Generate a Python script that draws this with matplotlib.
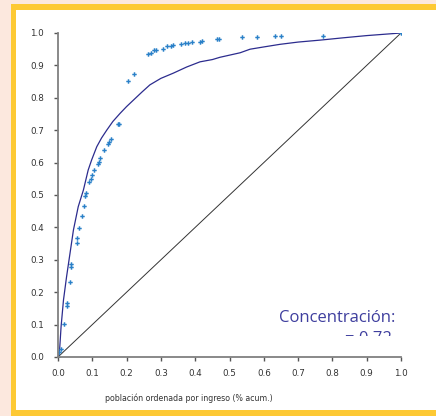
import numpy as np
import matplotlib
matplotlib.use("Agg")
import matplotlib.pyplot as plt
from matplotlib.patches import Rectangle
from matplotlib.transforms import Bbox, TransformedBbox

# curva de Lorenz (poblacion acumulada vs ingreso acumulado)
lorenz_x = [0.0, 0.004, 0.009, 0.016, 0.025, 0.035, 0.045, 0.059, 0.074, 0.088,
            0.098, 0.113, 0.127, 0.142, 0.16, 0.181, 0.2, 0.22, 0.245, 0.268,
            0.3, 0.336, 0.375, 0.414, 0.45, 0.472, 0.531, 0.56, 0.6, 0.647,
            0.7, 0.764, 0.83, 0.90, 0.95, 1.0]
lorenz_y = [0.0, 0.011, 0.094, 0.176, 0.248, 0.32, 0.392, 0.464, 0.515, 0.577,
            0.608, 0.649, 0.676, 0.70, 0.727, 0.752, 0.773, 0.793, 0.818, 0.84,
            0.86, 0.876, 0.895, 0.911, 0.918, 0.925, 0.939, 0.95, 0.957, 0.965,
            0.972, 0.978, 0.985, 0.992, 0.996, 1.0]

# puntos observados
pts_x = [0.0, 0.003, 0.009, 0.018, 0.025, 0.027, 0.035, 0.037, 0.039, 0.054,
         0.056, 0.062, 0.071, 0.075, 0.079, 0.082, 0.09, 0.095, 0.1, 0.106,
         0.117, 0.12, 0.123, 0.135, 0.146, 0.15, 0.155, 0.174, 0.178, 0.205,
         0.222, 0.263, 0.27, 0.279, 0.286, 0.305, 0.319, 0.329, 0.334, 0.36,
         0.37, 0.378, 0.392, 0.414, 0.42, 0.464, 0.47, 0.537, 0.58, 0.634,
         0.65, 0.774, 1.0]
pts_y = [0.0, 0.015, 0.024, 0.102, 0.157, 0.168, 0.232, 0.287, 0.277, 0.351,
         0.366, 0.399, 0.435, 0.467, 0.497, 0.505, 0.541, 0.549, 0.562, 0.578,
         0.595, 0.603, 0.614, 0.639, 0.657, 0.665, 0.674, 0.719, 0.719, 0.853,
         0.872, 0.934, 0.937, 0.946, 0.946, 0.951, 0.96, 0.961, 0.964, 0.967,
         0.968, 0.969, 0.971, 0.971, 0.976, 0.982, 0.982, 0.989, 0.989, 0.992,
         0.992, 0.992, 1.0]

ticks = [0.0, 0.1, 0.2, 0.3, 0.4, 0.5, 0.6, 0.7, 0.8, 0.9, 1.0]
concentracion = "0.72"

W, H = 436, 416
fig = plt.figure(figsize=(W/100, H/100), dpi=100, facecolor="#fce8de")

# marco amarillo y fondo blanco
fig.patches.append(Rectangle((11/W, 0), 1, (H-4)/H, transform=fig.transFigure,
                             facecolor="#fdc934", edgecolor="none", zorder=-2))
fig.patches.append(Rectangle((16/W, 6/H), 1, (410-10)/H, transform=fig.transFigure,
                             facecolor="white", edgecolor="none", zorder=-1))

ax = fig.add_axes([58/W, (H-357)/H, (401-58)/W, (357-33)/H])
ax.set_facecolor("none")
ax.set_zorder(1)

ax.plot([0, 1], [0, 1], color="#333333", lw=0.7)
ax.plot(lorenz_x, lorenz_y, color="#2c2c8e", lw=0.9)
ax.plot(pts_x, pts_y, ls="none", marker="P", ms=3.2, color="#2a80c8", mew=0)

ax.set_xlim(0, 1)
ax.set_ylim(0, 1)
ax.set_xticks(ticks)
ax.set_yticks(ticks)
ax.set_xticklabels(["%.1f" % t for t in ticks])
ax.set_yticklabels(["%.1f" % t for t in ticks])
for s in ["top", "right"]:
    ax.spines[s].set_visible(False)
for s in ["left", "bottom"]:
    ax.spines[s].set_color("#808080")
    ax.spines[s].set_linewidth(1.3)
ax.tick_params(direction="out", length=3, width=1, color="#555555",
               labelsize=6.3, labelcolor="#333333")
ax.tick_params(axis="x", pad=6)
ax.tick_params(axis="y", pad=7)

fig.text(189/W, (H-398)/H, "población ordenada por ingreso (% acum.)",
         ha="center", va="center", fontsize=5.7, color="#333333")

fig.text(395/W, (H-322)/H, "Concentración:", ha="right", va="baseline",
         fontsize=12, family="Open Sans", color="#3e3e9e")
t2 = fig.text(392/W, (H-343)/H, "= " + concentracion, ha="right", va="baseline",
              fontsize=12, family="Open Sans", color="#3e3e9e")
t2.set_clip_box(TransformedBbox(Bbox([[0, (H-336)/H], [1, 1]]), fig.transFigure))
t2.set_clip_on(True)

fig.savefig("out.png", dpi=100, facecolor=fig.get_facecolor())
